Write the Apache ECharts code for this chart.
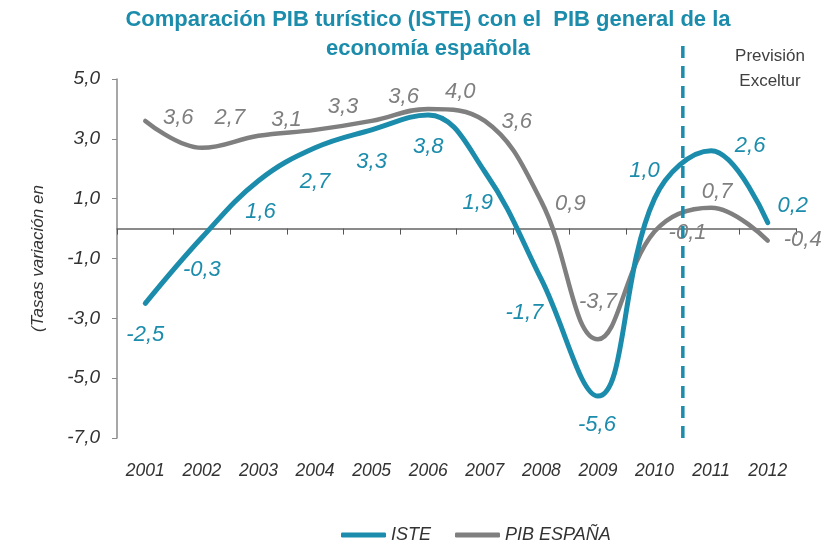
<!DOCTYPE html>
<html>
<head>
<meta charset="utf-8">
<script src="https://cdn.jsdelivr.net/npm/echarts@6/dist/echarts.min.js"></script>
<style>
  html, body { margin: 0; padding: 0; background: #fff; }
  #chart-container { width: 830px; height: 542px; }
</style>
</head>
<body>
<div id="chart-container"></div>
<script>
var years = ['2001', '2002', '2003', '2004', '2005', '2006', '2007', '2008', '2009', '2010', '2011', '2012'];
var iste = [-2.5, -0.3, 1.6, 2.7, 3.3, 3.8, 1.9, -1.7, -5.6, 1.0, 2.6, 0.2];
var pibEspana = [3.6, 2.7, 3.1, 3.3, 3.6, 4.0, 3.6, 0.9, -3.7, -0.1, 0.7, -0.4];
var yTicks = [-7, -5, -3, -1, 1, 3, 5];
var forecastStart = '2011';

// where each value label sits relative to its point (px)
var isteLabelOffset = [[0, 31], [0, 32], [2, 31], [0, 34], [0, 32], [0, 32], [-7, 31], [-17, 33], [-1, 29], [-10, -28], [39, -5], [25, -17]];
var pibLabelOffset = [[33, -3], [28, -30], [28, -16], [28, -23], [32, -24], [32, -17], [32, 1], [29, 2], [0, -37], [33, 1], [6, -16], [35, -1]];

var TEAL = '#1b8cab';
var GREY = '#7f7f7f';
var FONT = '"Liberation Sans", Arial, sans-serif';

function comma(v) {
  return v.toFixed(1).replace('.', ',');
}

function labelled(values, offsets) {
  return values.map(function (v, i) {
    return {
      value: v,
      label: { offset: offsets[i] }
    };
  });
}

var dom = document.getElementById('chart-container');
var myChart = echarts.init(dom, null, { renderer: 'canvas' });

var dividerX = years.indexOf(forecastStart);

var option = {
  animation: false,
  textStyle: { fontFamily: FONT },
  title: [
    {
      text: 'Comparación PIB turístico (ISTE) con el  PIB general de la\neconomía española',
      left: 423,
      top: 0,
      textAlign: 'center',
      textStyle: { color: TEAL, fontSize: 22, fontWeight: 'bold', lineHeight: 29, fontFamily: FONT }
    },
    {
      text: 'Previsión\nExceltur',
      left: 765,
      top: 39,
      textAlign: 'center',
      textStyle: { color: '#404040', fontSize: 17, fontWeight: 'normal', lineHeight: 25, fontFamily: FONT }
    }
  ],
  legend: {
    left: 336,
    top: 521,
    icon: 'roundRect',
    itemWidth: 45,
    itemHeight: 5,
    itemGap: 24,
    textStyle: { color: '#333', fontSize: 18, fontStyle: 'italic', fontFamily: FONT },
    data: ['ISTE', 'PIB ESPAÑA']
  },
  grid: [
    { left: 117, right: 34, top: 79, bottom: 104 },
    { left: 117, right: 34, top: 46, bottom: 104 }
  ],
  xAxis: [
    {
      type: 'category',
      data: years,
      gridIndex: 0,
      position: 'bottom',
      boundaryGap: true,
      axisLine: { onZero: true, lineStyle: { color: '#8a8a8a', width: 2 } },
      axisTick: { show: true, length: 6, lineStyle: { color: '#555', width: 1 } },
      axisLabel: { show: false },
      splitLine: { show: false }
    },
    {
      type: 'category',
      data: years,
      gridIndex: 0,
      position: 'bottom',
      axisLine: { show: false, onZero: false },
      axisTick: { show: false },
      axisLabel: { color: '#333', fontSize: 17.5, fontStyle: 'italic', margin: 24, fontFamily: FONT },
      splitLine: { show: false }
    },
    {
      type: 'value',
      gridIndex: 1,
      min: 0,
      max: years.length,
      show: false
    }
  ],
  yAxis: [
    {
      type: 'value',
      gridIndex: 0,
      min: yTicks[0],
      max: yTicks[yTicks.length - 1],
      interval: 2,
      name: '(Tasas variación en',
      nameLocation: 'middle',
      nameRotate: 90,
      nameGap: 70,
      nameTextStyle: { color: '#333', fontSize: 17, fontStyle: 'italic', fontFamily: FONT },
      axisLine: { show: true, onZero: false, lineStyle: { color: '#8a8a8a', width: 1.5 } },
      axisTick: { show: true, length: 5, lineStyle: { color: '#8a8a8a' } },
      axisLabel: { color: '#333', fontSize: 19, fontStyle: 'italic', margin: 17, formatter: comma, fontFamily: FONT },
      splitLine: { show: false }
    },
    {
      type: 'value',
      gridIndex: 1,
      min: 0,
      max: 1,
      show: false
    }
  ],
  series: [
    {
      name: 'ISTE',
      type: 'line',
      xAxisIndex: 0,
      yAxisIndex: 0,
      data: labelled(iste, isteLabelOffset),
      smooth: 0.4,
      symbol: 'circle',
      symbolSize: 1,
      itemStyle: { color: TEAL },
      lineStyle: { color: TEAL, width: 5, cap: 'round', join: 'round' },
      label: {
        show: true,
        position: 'inside',
        color: TEAL,
        fontSize: 22,
        fontStyle: 'italic',
        fontFamily: FONT,
        formatter: function (p) { return comma(p.value); }
      },
      emphasis: { disabled: true },
      z: 3
    },
    {
      name: 'PIB ESPAÑA',
      type: 'line',
      xAxisIndex: 0,
      yAxisIndex: 0,
      data: labelled(pibEspana, pibLabelOffset),
      smooth: 0.4,
      symbol: 'circle',
      symbolSize: 1,
      itemStyle: { color: GREY },
      lineStyle: { color: GREY, width: 4.5, cap: 'round', join: 'round' },
      label: {
        show: true,
        position: 'inside',
        color: GREY,
        fontSize: 22,
        fontStyle: 'italic',
        fontFamily: FONT,
        formatter: function (p) { return comma(p.value); }
      },
      emphasis: { disabled: true },
      z: 2
    },
    {
      name: 'forecast',
      type: 'line',
      xAxisIndex: 2,
      yAxisIndex: 1,
      data: [[dividerX, 0], [dividerX, 1]],
      symbol: 'none',
      silent: true,
      lineStyle: { color: TEAL, width: 3.5, type: [12, 8] },
      z: 4
    }
  ]
};

if (option && typeof option === 'object') {
  myChart.setOption(option);
}

window.addEventListener('resize', myChart.resize);
</script>
</body>
</html>
